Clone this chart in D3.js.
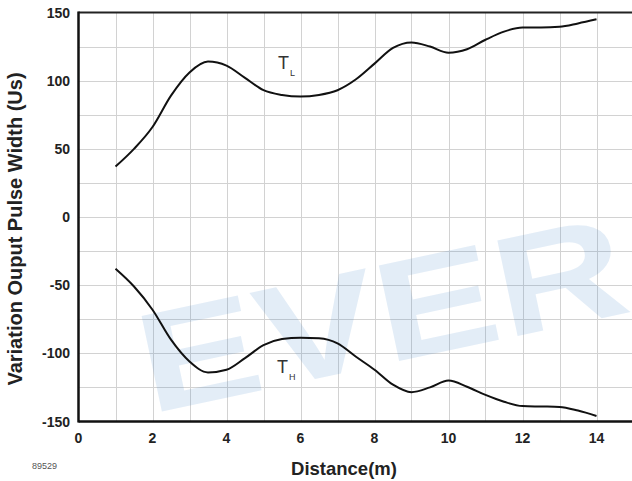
<!DOCTYPE html>
<html>
<head>
<meta charset="utf-8">
<script src="https://cdn.jsdelivr.net/npm/d3@7"></script>
<style>
  body { margin: 0; background: #fff; }
  svg { display: block; }
</style>
</head>
<body>
<div id="chart"></div>
<script>
var width = 632;
var height = 481;

// distance (m) sampled every 0.5 m
var distance = [1, 1.5, 2, 2.5, 3, 3.5, 4, 4.5, 5, 5.5, 6, 6.5, 7, 7.5, 8, 8.5, 9, 9.5, 10, 10.5, 11, 11.5, 12, 12.5, 13, 13.5, 14];
var tL = [37, 50, 66, 89, 106, 114, 111, 102, 93, 89.5, 88.3, 89.5, 93, 101, 112.5, 124, 128, 125, 120.5, 123, 130, 136, 139, 139, 139.5, 142, 145];
var tH = [-38, -51, -68, -90, -106, -114, -112, -103.5, -94, -89.5, -88.5, -89, -92.7, -102.5, -112, -123, -128.5, -125, -120, -124.5, -130.5, -135.5, -138.7, -139, -139.3, -142, -146];
var xTicks = [0, 2, 4, 6, 8, 10, 12, 14];
var yTicks = [150, 100, 50, 0, -50, -100, -150];

var svg = d3.select("#chart")
    .append("svg")
    .attr("width", width)
    .attr("height", height);

var x = d3.scaleLinear().domain([0, 15]).range([78.5, 633.5]);
var y = d3.scaleLinear().domain([-150, 150]).range([421.5, 12.5]);

//------------------------- GRID -------------------------\\
var grid = svg.append("g").attr("class", "grid");
grid.selectAll(".vgrid")
    .data(d3.range(1, 15))
    .join("line")
    .attr("x1", d => Math.round(x(d)) + 0.5)
    .attr("x2", d => Math.round(x(d)) + 0.5)
    .attr("y1", y(150))
    .attr("y2", y(-150))
    .attr("stroke", "#d2d2d2")
    .attr("stroke-width", 1);
grid.selectAll(".hgrid")
    .data(d3.range(-125, 150, 25))
    .join("line")
    .attr("x1", x(0))
    .attr("x2", width)
    .attr("y1", d => Math.round(y(d)) + 0.5)
    .attr("y2", d => Math.round(y(d)) + 0.5)
    .attr("stroke", "#d2d2d2")
    .attr("stroke-width", 1);

//------------------------- WATERMARK -------------------------\\
svg.append("text")
    .attr("transform", "translate(150,414) rotate(-12) scale(1.28,1)")
    .style("font-family", "'Liberation Sans', Arial, sans-serif")
    .style("font-weight", "700")
    .style("font-size", "142px")
    .style("fill", "rgb(60,130,195)")
    .style("fill-opacity", 0.14)
    .text("EVER");

//------------------------- CURVES -------------------------\\
var line = d3.line()
    .x((d, i) => x(distance[i]))
    .y(d => y(d))
    .curve(d3.curveMonotoneX);

[tL, tH].forEach(function(s) {
    svg.append("path")
        .datum(s)
        .attr("d", line)
        .attr("fill", "none")
        .attr("stroke", "#111")
        .attr("stroke-width", 2);
});

//------------------------- AXES -------------------------\\
svg.append("line")
    .attr("x1", x(0)).attr("x2", width)
    .attr("y1", y(150)).attr("y2", y(150))
    .attr("stroke", "#222").attr("stroke-width", 2);
svg.append("line")
    .attr("x1", x(0)).attr("x2", width)
    .attr("y1", y(-150)).attr("y2", y(-150))
    .attr("stroke", "#111").attr("stroke-width", 2.5);
svg.append("line")
    .attr("x1", x(0)).attr("x2", x(0))
    .attr("y1", y(150) - 1).attr("y2", y(-150) + 1)
    .attr("stroke", "#111").attr("stroke-width", 2.5);

var tickFont = "'Liberation Sans', Arial, sans-serif";

svg.selectAll(".xlab")
    .data(xTicks)
    .join("text")
    .attr("x", d => x(d))
    .attr("y", 443)
    .attr("text-anchor", "middle")
    .style("font-family", tickFont)
    .style("font-weight", "700")
    .style("font-size", "14px")
    .style("fill", "#222")
    .text(d => d);

svg.selectAll(".ylab")
    .data(yTicks)
    .join("text")
    .attr("x", 70)
    .attr("y", d => y(d) + 5)
    .attr("text-anchor", "end")
    .style("font-family", tickFont)
    .style("font-weight", "700")
    .style("font-size", "14px")
    .style("fill", "#222")
    .text(d => d);

//------------------------- TITLES -------------------------\\
svg.append("text")
    .attr("x", 344)
    .attr("y", 475)
    .attr("text-anchor", "middle")
    .style("font-family", tickFont)
    .style("font-weight", "700")
    .style("font-size", "18.5px")
    .style("fill", "#222")
    .text("Distance(m)");

svg.append("text")
    .attr("transform", "translate(22,229) rotate(-90)")
    .attr("text-anchor", "middle")
    .style("font-family", tickFont)
    .style("font-weight", "700")
    .style("font-size", "20px")
    .style("fill", "#222")
    .text("Variation Ouput Pulse Width (Us)");

svg.append("text")
    .attr("x", 32)
    .attr("y", 469)
    .style("font-family", tickFont)
    .style("font-size", "9px")
    .style("fill", "#555")
    .text("89529");

//------------------------- CURVE LABELS -------------------------\\
var labels = [
    { main: "T", sub: "L", x: 278, y: 69 },
    { main: "T", sub: "H", x: 277, y: 373 }
];
labels.forEach(function(l) {
    var t = svg.append("text")
        .attr("x", l.x)
        .attr("y", l.y)
        .style("font-family", tickFont)
        .style("fill", "#333");
    t.append("tspan").style("font-size", "18px").text(l.main);
    t.append("tspan").attr("dx", 1).attr("dy", 7).style("font-size", "9px").text(l.sub);
});
</script>
</body>
</html>
